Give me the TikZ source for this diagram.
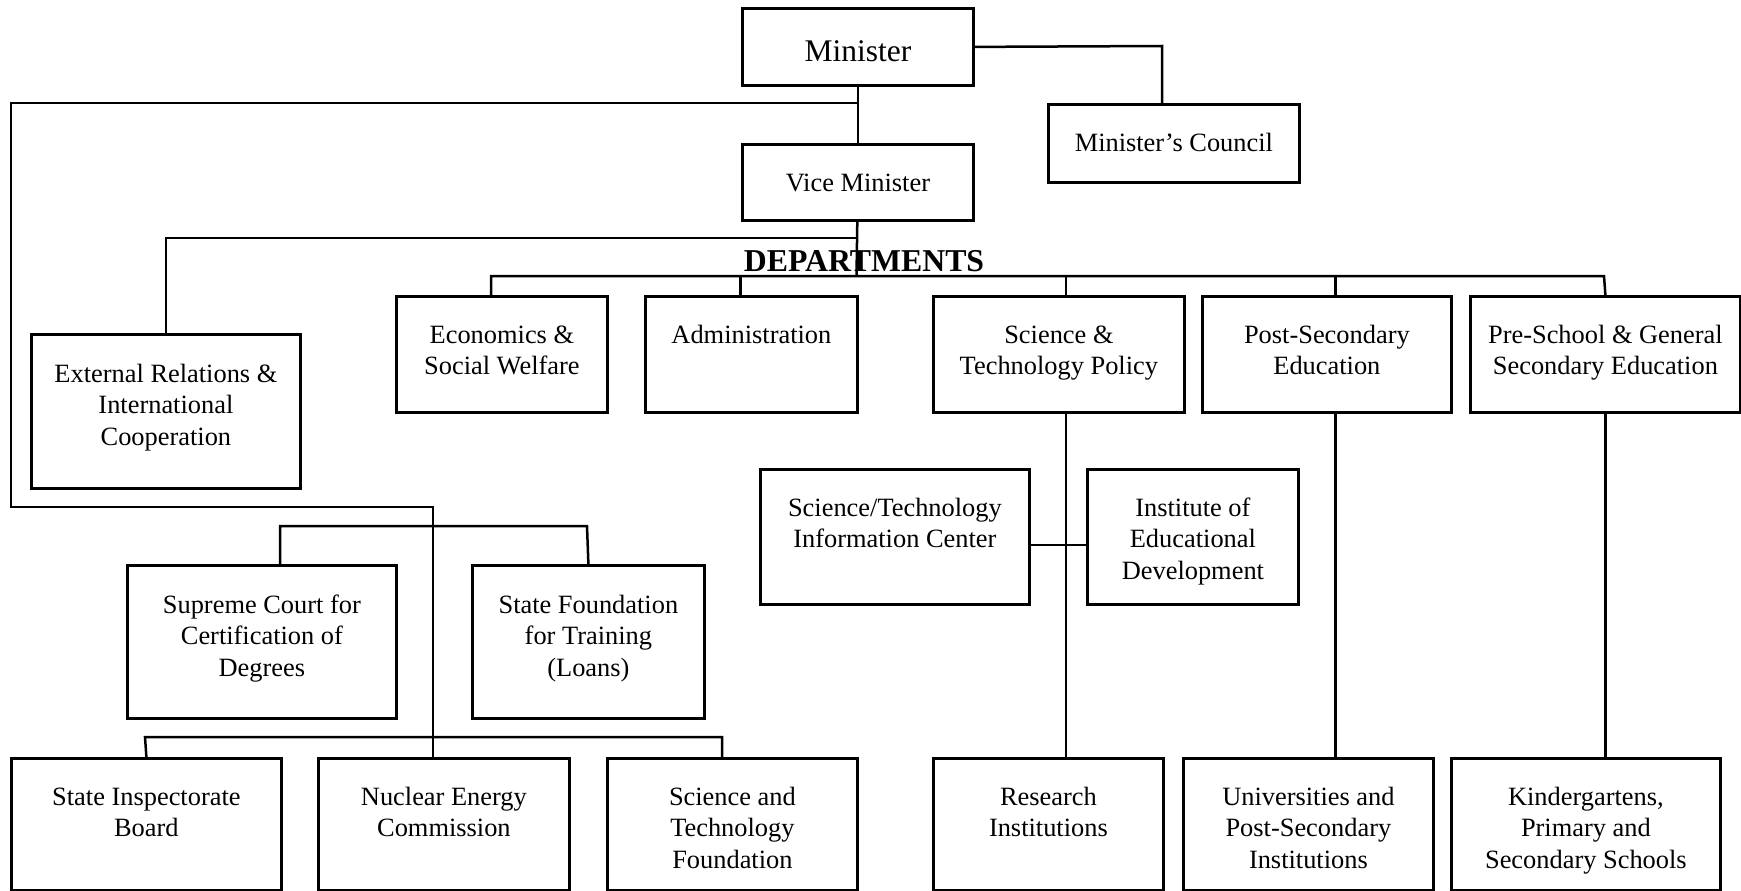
\documentclass[tikz,border=0pt]{standalone}
\usepackage{fontspec}
\setmainfont{Liberation Serif}
\newcommand\obx[7]{\node[obox] (#1) at (#2,#3) {\parbox[c][#5pt][t]{#4pt}{\centering\rule{0pt}{#6pt}#7}};}
\begin{document}
\begin{tikzpicture}[x=1pt,y=-1pt,
  obox/.style={draw, line width=2.8pt, inner sep=0pt, anchor=north west, font=\fontsize{26.4}{31.5}\selectfont},
  conn/.style={line width=2.5pt}]
\useasboundingbox (0,0) rectangle (1741,891);
\node[font=\fontsize{31.8}{36}\selectfont\bfseries, anchor=base, inner sep=0pt] (dept) at (864,271) {DEPARTMENTS};
\obx{minister}{741}{7}{231}{77}{53}{\fontsize{31.5}{36}\selectfont Minister}
\obx{council}{1047}{103}{251}{78}{47}{Minister’s Council}
\obx{vice}{741}{143}{231}{76}{47}{Vice Minister}
\obx{extrel}{30}{333}{269}{154}{48}{External Relations \&\\International\\Cooperation}
\obx{econ}{395}{295}{211}{116}{47}{Economics \&\\Social Welfare}
\obx{admin}{644}{295}{212}{116}{47}{Administration}
\obx{stpol}{932}{295}{251}{116}{47}{Science \&\\Technology Policy}
\obx{postsec}{1201}{295}{249}{116}{47}{Post-Secondary\\Education}
\obx{presch}{1469}{295}{270}{116}{47}{Pre-School \& General\\Secondary Education}
\obx{stinfo}{759}{468}{269}{135}{47}{Science/Technology\\Information Center}
\obx{ied}{1086}{468}{211}{135}{47}{Institute of\\Educational\\Development}
\obx{supreme}{126}{564}{269}{153}{48}{Supreme Court for\\Certification of\\Degrees}
\obx{statefound}{471}{564}{232}{153}{48}{State Foundation\\for Training\\(Loans)}
\obx{inspect}{10}{757}{270}{132}{47}{State Inspectorate\\Board}
\obx{nuclear}{317}{757}{251}{132}{47}{Nuclear Energy\\Commission}
\obx{stfound}{606}{757}{250}{132}{47}{Science and\\Technology\\Foundation}
\obx{research}{932}{757}{230}{132}{47}{Research\\Institutions}
\obx{univ}{1182}{757}{250}{132}{47}{Universities and\\Post-Secondary\\Institutions}
\obx{kinder}{1450}{757}{269}{132}{47}{Kindergartens,\\Primary and\\Secondary Schools}
% junction coordinates
\coordinate (mcv) at (1162,46);
\coordinate (a1) at (856.5,103);
\coordinate (a2) at (11,103);
\coordinate (a3) at (11,507);
\coordinate (a4) at (433,507);
\coordinate (b1) at (145,737);
\coordinate (b2) at (722,737);
\coordinate (c1) at (280,526);
\coordinate (c2) at (587,526);
\coordinate (e1) at (856.5,238);
\coordinate (d0) at (856.5,276);
\coordinate (d1) at (491,276);
\coordinate (d2) at (740.5,276);
\coordinate (d3) at (1066,276);
\coordinate (d4) at (1335.5,276);
\coordinate (d5) at (1604,276);
\coordinate (f) at (0,545);
% connectors
\draw[conn] (minister.east) -- (mcv) -- (mcv |- council.north);
\draw[conn] (minister) -- (vice);
\draw[conn] (a1) -- (a2) -- (a3) -- (a4) -- (a4 |- nuclear.north);
\draw[conn] (inspect.north) -- (b1) -- (b2) -- (b2 |- stfound.north);
\draw[conn] (c1 |- supreme.north) -- (c1) -- (c2) -- (statefound.north);
\draw[conn] (vice) -- (d0);
\draw[conn] (e1) -| (extrel.north);
\draw[conn] (d1 |- econ.north) -- (d1) -- (d5) -- (presch.north);
\draw[conn] (d2) -- (d2 |- admin.north);
\draw[conn] (d3) -- (d3 |- stpol.north);
\draw[conn] (d4) -- (d4 |- postsec.north);
\draw[conn] (d3 |- stpol.south) -- (d3 |- research.north);
\draw[conn] (d4 |- postsec.south) -- (d4 |- univ.north);
\draw[conn] (presch.south) -- (presch.south |- kinder.north);
\draw[conn] (stinfo.east |- f) -- (ied.west |- f);
\end{tikzpicture}
\end{document}
